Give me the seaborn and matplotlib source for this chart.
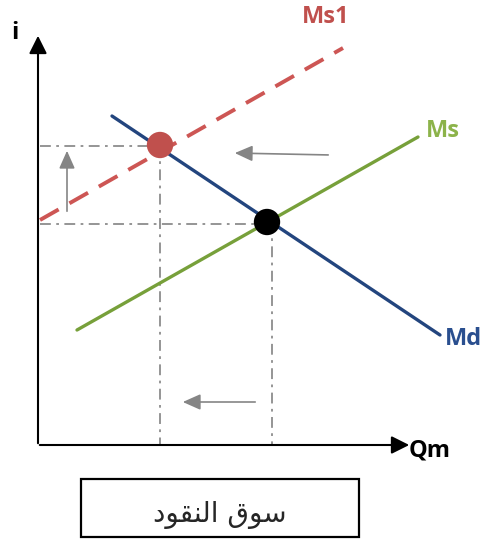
import matplotlib
matplotlib.use("Agg")
import matplotlib.pyplot as plt
import seaborn as sns
import pandas as pd
from matplotlib.patches import Rectangle

sns.set_theme(style="white")
plt.rcParams['font.family'] = ['Open Sans', 'DejaVu Sans']

# Curve endpoints (chart units: x right, y down)
md_x = [112, 440]; md_y = [116, 335]
ms_x = [77, 418]; ms_y = [330, 137]
ms1_x = [40, 343]; ms1_y = [220, 48]
eq_x = [160, 267]; eq_y = [145, 222]
eq_colors = ["#C0504D", "#000000"]
labels = ["Ms1", "Ms", "Md", "Qm", "i"]
title_ar = "\uFEA9\uFEEE\uFED8\uFEE8\uFEDF\uFE8D \uFED5\uFEEE\uFEB3"  # سوق النقود (shaped)

fig = plt.figure(figsize=(4.86, 5.4), dpi=100)
ax = fig.add_axes([0, 0, 1, 1])
ax.set_xlim(0, 486); ax.set_ylim(540, 0); ax.axis("off")

guide = dict(color="#8c8c8c", lw=1.3, ls=(0, (6, 3, 1.5, 3)), zorder=1)
ax.plot([40, eq_x[0]], [eq_y[0]+1, eq_y[0]+1], **guide)
ax.plot([40, eq_x[1]], [eq_y[1]+2, eq_y[1]+2], **guide)
ax.plot([eq_x[0], eq_x[0]], [eq_y[0], 445], **guide)
ax.plot([272, 272], [eq_y[1], 445], **guide)

# axes arrows
ax.annotate("", xy=(38, 33), xytext=(38, 446),
            arrowprops=dict(arrowstyle="-|>,head_length=0.9,head_width=0.45", color="black", lw=1.5))
ax.annotate("", xy=(412, 445), xytext=(37, 445),
            arrowprops=dict(arrowstyle="-|>,head_length=0.9,head_width=0.45", color="black", lw=1.5))

df = pd.DataFrame({"x": md_x + ms_x + ms1_x, "y": md_y + ms_y + ms1_y,
                   "c": ["Md"]*2 + ["Ms"]*2 + ["Ms1"]*2})
sns.lineplot(data=df[df.c == "Md"], x="x", y="y", color="#23457E", lw=2.4, ax=ax, zorder=3)
sns.lineplot(data=df[df.c == "Ms"], x="x", y="y", color="#77A03A", lw=2.4, ax=ax, zorder=2)
sns.lineplot(data=df[df.c == "Ms1"], x="x", y="y", color="#CD5654", lw=2.8, ax=ax, zorder=2,
             dashes=False, linestyle=(0, (5.5, 3.2)))
ax.set_xlabel(""); ax.set_ylabel("")
ax.set_xlim(0, 486); ax.set_ylim(540, 0)

sns.scatterplot(x=eq_x, y=eq_y, hue=["a", "b"], palette=eq_colors, s=360, legend=False,
                edgecolor="none", ax=ax, zorder=5)

arr = dict(arrowstyle="-|>,head_length=0.9,head_width=0.4", color="#858585", lw=1.2)
ax.annotate("", xy=(67, 148), xytext=(67, 214), arrowprops=arr)
ax.annotate("", xy=(232, 153), xytext=(331, 155), arrowprops=arr)
ax.annotate("", xy=(180, 402), xytext=(258, 402), arrowprops=arr)

fw = dict(fontsize=17, fontweight="bold", va="center", ha="left")
ax.text(302, 17, labels[0], color="#C0504D", **fw)
ax.text(426, 131, labels[1], color="#8CB34A", **fw)
ax.text(445, 339, labels[2], color="#2A4F8F", **fw)
ax.text(409, 450, labels[3], color="black", **fw)
ax.text(11, 33, labels[4], color="black", **fw)

ax.add_patch(Rectangle((81, 479), 278, 58, fill=False, ec="black", lw=1.6))
ax.text(220, 515, title_ar, fontsize=20, ha="center", va="center", family=["DejaVu Sans"])

fig.savefig("out.png", dpi=100)
